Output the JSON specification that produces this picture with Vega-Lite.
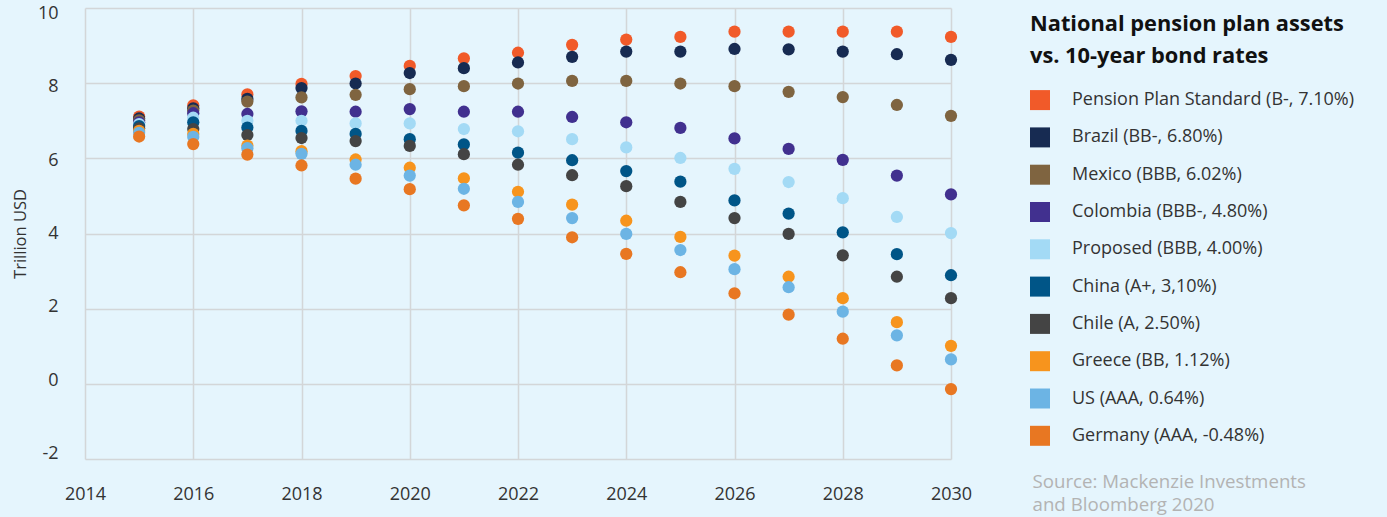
{
  "$schema": "https://vega.github.io/schema/vega-lite/v6.json",
  "width": 866,
  "height": 451,
  "autosize": {"type": "none"},
  "padding": {"left": 85, "top": 8, "right": 436, "bottom": 58},
  "background": "#e5f5fd",
  "config": {
    "font": "Open Sans",
    "view": {"stroke": null, "fill": "#e5f5fd"}
  },
  "data": {"values": [
    {"year":2015,"series":"Pension Plan Standard (B-, 7.10%)","value":7.11},
    {"year":2015,"series":"Brazil (BB-, 6.80%)","value":7.06},
    {"year":2015,"series":"Mexico (BBB, 6.02%)","value":7.01},
    {"year":2015,"series":"Colombia (BBB-, 4.80%)","value":6.96},
    {"year":2015,"series":"Proposed (BBB, 4.00%)","value":6.91},
    {"year":2015,"series":"China (A+, 3,10%)","value":6.86},
    {"year":2015,"series":"Chile (A, 2.50%)","value":6.80},
    {"year":2015,"series":"Greece (BB, 1.12%)","value":6.73},
    {"year":2015,"series":"US (AAA, 0.64%)","value":6.68},
    {"year":2015,"series":"Germany (AAA, -0.48%)","value":6.58},
    {"year":2016,"series":"Pension Plan Standard (B-, 7.10%)","value":7.41},
    {"year":2016,"series":"Brazil (BB-, 6.80%)","value":7.33},
    {"year":2016,"series":"Mexico (BBB, 6.02%)","value":7.27},
    {"year":2016,"series":"Colombia (BBB-, 4.80%)","value":7.20},
    {"year":2016,"series":"Proposed (BBB, 4.00%)","value":7.08},
    {"year":2016,"series":"China (A+, 3,10%)","value":6.96},
    {"year":2016,"series":"Chile (A, 2.50%)","value":6.78},
    {"year":2016,"series":"Greece (BB, 1.12%)","value":6.65},
    {"year":2016,"series":"US (AAA, 0.64%)","value":6.57},
    {"year":2016,"series":"Germany (AAA, -0.48%)","value":6.38},
    {"year":2017,"series":"Pension Plan Standard (B-, 7.10%)","value":7.70},
    {"year":2017,"series":"Brazil (BB-, 6.80%)","value":7.58},
    {"year":2017,"series":"Mexico (BBB, 6.02%)","value":7.51},
    {"year":2017,"series":"Colombia (BBB-, 4.80%)","value":7.18},
    {"year":2017,"series":"Proposed (BBB, 4.00%)","value":7.00},
    {"year":2017,"series":"China (A+, 3,10%)","value":6.82},
    {"year":2017,"series":"Chile (A, 2.50%)","value":6.62},
    {"year":2017,"series":"Greece (BB, 1.12%)","value":6.34},
    {"year":2017,"series":"US (AAA, 0.64%)","value":6.27},
    {"year":2017,"series":"Germany (AAA, -0.48%)","value":6.10},
    {"year":2018,"series":"Pension Plan Standard (B-, 7.10%)","value":7.98},
    {"year":2018,"series":"Brazil (BB-, 6.80%)","value":7.87},
    {"year":2018,"series":"Mexico (BBB, 6.02%)","value":7.62},
    {"year":2018,"series":"Colombia (BBB-, 4.80%)","value":7.25},
    {"year":2018,"series":"Proposed (BBB, 4.00%)","value":7.00},
    {"year":2018,"series":"China (A+, 3,10%)","value":6.73},
    {"year":2018,"series":"Chile (A, 2.50%)","value":6.54},
    {"year":2018,"series":"Greece (BB, 1.12%)","value":6.19},
    {"year":2018,"series":"US (AAA, 0.64%)","value":6.12},
    {"year":2018,"series":"Germany (AAA, -0.48%)","value":5.81},
    {"year":2019,"series":"Pension Plan Standard (B-, 7.10%)","value":8.19},
    {"year":2019,"series":"Brazil (BB-, 6.80%)","value":7.99},
    {"year":2019,"series":"Mexico (BBB, 6.02%)","value":7.69},
    {"year":2019,"series":"Colombia (BBB-, 4.80%)","value":7.24},
    {"year":2019,"series":"Proposed (BBB, 4.00%)","value":6.93},
    {"year":2019,"series":"China (A+, 3,10%)","value":6.65},
    {"year":2019,"series":"Chile (A, 2.50%)","value":6.46},
    {"year":2019,"series":"Greece (BB, 1.12%)","value":5.97},
    {"year":2019,"series":"US (AAA, 0.64%)","value":5.83},
    {"year":2019,"series":"Germany (AAA, -0.48%)","value":5.46},
    {"year":2020,"series":"Pension Plan Standard (B-, 7.10%)","value":8.46},
    {"year":2020,"series":"Brazil (BB-, 6.80%)","value":8.27},
    {"year":2020,"series":"Mexico (BBB, 6.02%)","value":7.84},
    {"year":2020,"series":"Colombia (BBB-, 4.80%)","value":7.31},
    {"year":2020,"series":"Proposed (BBB, 4.00%)","value":6.93},
    {"year":2020,"series":"China (A+, 3,10%)","value":6.51},
    {"year":2020,"series":"Chile (A, 2.50%)","value":6.33},
    {"year":2020,"series":"Greece (BB, 1.12%)","value":5.75},
    {"year":2020,"series":"US (AAA, 0.64%)","value":5.54},
    {"year":2020,"series":"Germany (AAA, -0.48%)","value":5.18},
    {"year":2021,"series":"Pension Plan Standard (B-, 7.10%)","value":8.66},
    {"year":2021,"series":"Brazil (BB-, 6.80%)","value":8.40},
    {"year":2021,"series":"Mexico (BBB, 6.02%)","value":7.92},
    {"year":2021,"series":"Colombia (BBB-, 4.80%)","value":7.24},
    {"year":2021,"series":"Proposed (BBB, 4.00%)","value":6.78},
    {"year":2021,"series":"China (A+, 3,10%)","value":6.37},
    {"year":2021,"series":"Chile (A, 2.50%)","value":6.11},
    {"year":2021,"series":"Greece (BB, 1.12%)","value":5.47},
    {"year":2021,"series":"US (AAA, 0.64%)","value":5.19},
    {"year":2021,"series":"Germany (AAA, -0.48%)","value":4.75},
    {"year":2022,"series":"Pension Plan Standard (B-, 7.10%)","value":8.81},
    {"year":2022,"series":"Brazil (BB-, 6.80%)","value":8.55},
    {"year":2022,"series":"Mexico (BBB, 6.02%)","value":7.99},
    {"year":2022,"series":"Colombia (BBB-, 4.80%)","value":7.24},
    {"year":2022,"series":"Proposed (BBB, 4.00%)","value":6.72},
    {"year":2022,"series":"China (A+, 3,10%)","value":6.15},
    {"year":2022,"series":"Chile (A, 2.50%)","value":5.83},
    {"year":2022,"series":"Greece (BB, 1.12%)","value":5.11},
    {"year":2022,"series":"US (AAA, 0.64%)","value":4.84},
    {"year":2022,"series":"Germany (AAA, -0.48%)","value":4.39},
    {"year":2023,"series":"Pension Plan Standard (B-, 7.10%)","value":9.02},
    {"year":2023,"series":"Brazil (BB-, 6.80%)","value":8.70},
    {"year":2023,"series":"Mexico (BBB, 6.02%)","value":8.06},
    {"year":2023,"series":"Colombia (BBB-, 4.80%)","value":7.10},
    {"year":2023,"series":"Proposed (BBB, 4.00%)","value":6.51},
    {"year":2023,"series":"China (A+, 3,10%)","value":5.95},
    {"year":2023,"series":"Chile (A, 2.50%)","value":5.55},
    {"year":2023,"series":"Greece (BB, 1.12%)","value":4.77},
    {"year":2023,"series":"US (AAA, 0.64%)","value":4.41},
    {"year":2023,"series":"Germany (AAA, -0.48%)","value":3.90},
    {"year":2024,"series":"Pension Plan Standard (B-, 7.10%)","value":9.16},
    {"year":2024,"series":"Brazil (BB-, 6.80%)","value":8.84},
    {"year":2024,"series":"Mexico (BBB, 6.02%)","value":8.06},
    {"year":2024,"series":"Colombia (BBB-, 4.80%)","value":6.96},
    {"year":2024,"series":"Proposed (BBB, 4.00%)","value":6.29},
    {"year":2024,"series":"China (A+, 3,10%)","value":5.66},
    {"year":2024,"series":"Chile (A, 2.50%)","value":5.26},
    {"year":2024,"series":"Greece (BB, 1.12%)","value":4.34},
    {"year":2024,"series":"US (AAA, 0.64%)","value":3.99},
    {"year":2024,"series":"Germany (AAA, -0.48%)","value":3.46},
    {"year":2025,"series":"Pension Plan Standard (B-, 7.10%)","value":9.23},
    {"year":2025,"series":"Brazil (BB-, 6.80%)","value":8.84},
    {"year":2025,"series":"Mexico (BBB, 6.02%)","value":7.99},
    {"year":2025,"series":"Colombia (BBB-, 4.80%)","value":6.81},
    {"year":2025,"series":"Proposed (BBB, 4.00%)","value":6.01},
    {"year":2025,"series":"China (A+, 3,10%)","value":5.38},
    {"year":2025,"series":"Chile (A, 2.50%)","value":4.84},
    {"year":2025,"series":"Greece (BB, 1.12%)","value":3.91},
    {"year":2025,"series":"US (AAA, 0.64%)","value":3.56},
    {"year":2025,"series":"Germany (AAA, -0.48%)","value":2.97},
    {"year":2026,"series":"Pension Plan Standard (B-, 7.10%)","value":9.37},
    {"year":2026,"series":"Brazil (BB-, 6.80%)","value":8.91},
    {"year":2026,"series":"Mexico (BBB, 6.02%)","value":7.92},
    {"year":2026,"series":"Colombia (BBB-, 4.80%)","value":6.53},
    {"year":2026,"series":"Proposed (BBB, 4.00%)","value":5.72},
    {"year":2026,"series":"China (A+, 3,10%)","value":4.88},
    {"year":2026,"series":"Chile (A, 2.50%)","value":4.41},
    {"year":2026,"series":"Greece (BB, 1.12%)","value":3.41},
    {"year":2026,"series":"US (AAA, 0.64%)","value":3.05},
    {"year":2026,"series":"Germany (AAA, -0.48%)","value":2.41},
    {"year":2027,"series":"Pension Plan Standard (B-, 7.10%)","value":9.37},
    {"year":2027,"series":"Brazil (BB-, 6.80%)","value":8.90},
    {"year":2027,"series":"Mexico (BBB, 6.02%)","value":7.77},
    {"year":2027,"series":"Colombia (BBB-, 4.80%)","value":6.25},
    {"year":2027,"series":"Proposed (BBB, 4.00%)","value":5.37},
    {"year":2027,"series":"China (A+, 3,10%)","value":4.53},
    {"year":2027,"series":"Chile (A, 2.50%)","value":3.99},
    {"year":2027,"series":"Greece (BB, 1.12%)","value":2.85},
    {"year":2027,"series":"US (AAA, 0.64%)","value":2.57},
    {"year":2027,"series":"Germany (AAA, -0.48%)","value":1.84},
    {"year":2028,"series":"Pension Plan Standard (B-, 7.10%)","value":9.37},
    {"year":2028,"series":"Brazil (BB-, 6.80%)","value":8.84},
    {"year":2028,"series":"Mexico (BBB, 6.02%)","value":7.63},
    {"year":2028,"series":"Colombia (BBB-, 4.80%)","value":5.96},
    {"year":2028,"series":"Proposed (BBB, 4.00%)","value":4.94},
    {"year":2028,"series":"China (A+, 3,10%)","value":4.03},
    {"year":2028,"series":"Chile (A, 2.50%)","value":3.42},
    {"year":2028,"series":"Greece (BB, 1.12%)","value":2.28},
    {"year":2028,"series":"US (AAA, 0.64%)","value":1.92},
    {"year":2028,"series":"Germany (AAA, -0.48%)","value":1.20},
    {"year":2029,"series":"Pension Plan Standard (B-, 7.10%)","value":9.37},
    {"year":2029,"series":"Brazil (BB-, 6.80%)","value":8.77},
    {"year":2029,"series":"Mexico (BBB, 6.02%)","value":7.42},
    {"year":2029,"series":"Colombia (BBB-, 4.80%)","value":5.54},
    {"year":2029,"series":"Proposed (BBB, 4.00%)","value":4.44},
    {"year":2029,"series":"China (A+, 3,10%)","value":3.45},
    {"year":2029,"series":"Chile (A, 2.50%)","value":2.85},
    {"year":2029,"series":"Greece (BB, 1.12%)","value":1.64},
    {"year":2029,"series":"US (AAA, 0.64%)","value":1.29},
    {"year":2029,"series":"Germany (AAA, -0.48%)","value":0.49},
    {"year":2030,"series":"Pension Plan Standard (B-, 7.10%)","value":9.23},
    {"year":2030,"series":"Brazil (BB-, 6.80%)","value":8.62},
    {"year":2030,"series":"Mexico (BBB, 6.02%)","value":7.13},
    {"year":2030,"series":"Colombia (BBB-, 4.80%)","value":5.04},
    {"year":2030,"series":"Proposed (BBB, 4.00%)","value":4.01},
    {"year":2030,"series":"China (A+, 3,10%)","value":2.89},
    {"year":2030,"series":"Chile (A, 2.50%)","value":2.28},
    {"year":2030,"series":"Greece (BB, 1.12%)","value":1.01},
    {"year":2030,"series":"US (AAA, 0.64%)","value":0.65},
    {"year":2030,"series":"Germany (AAA, -0.48%)","value":-0.14}
  ]},
  "mark": {"type": "point", "filled": true, "size": 150, "opacity": 1, "strokeWidth": 0},
  "encoding": {
    "x": {
      "field": "year", "type": "quantitative",
      "scale": {"domain": [2014, 2030], "nice": false, "zero": false},
      "axis": {
        "values": [2014, 2016, 2018, 2020, 2022, 2024, 2026, 2028, 2030],
        "labelExpr": "toString(datum.value)",
        "domain": false, "ticks": false,
        "grid": true, "gridColor": "#d3d6d8", "gridWidth": 1.5,
        "labelFontSize": 18, "labelColor": "#333333", "labelPadding": 26,
        "labelFlush": false,
        "title": ["Source: Mackenzie Investments", "and Bloomberg 2020"],
        "titleX": 947, "titleY": 28, "titleAlign": "left", "titleBaseline": "alphabetic",
        "titleAnchor": "start",
        "titleFontSize": 18.7, "titleFontWeight": "normal", "titleColor": "#b3b3b3",
        "titleLineHeight": 23.5
      }
    },
    "y": {
      "field": "value", "type": "quantitative",
      "scale": {"domain": [-2, 10], "nice": false, "zero": false},
      "axis": {
        "values": [-2, 0, 2, 4, 6, 8, 10],
        "labelExpr": "toString(datum.value)",
        "domain": false, "ticks": false,
        "grid": true, "gridColor": "#d3d6d8", "gridWidth": 1.5,
        "labelFontSize": 18, "labelColor": "#333333", "labelPadding": 27,
        "labelFlush": false,
        "labelOffset": {"expr": "(datum.value - 4) * 0.9"},
        "title": "Trillion USD", "titleFontSize": 16.5, "titleFontWeight": "normal",
        "titleColor": "#333333", "titleX": -60, "titleBaseline": "alphabetic"
      }
    },
    "color": {
      "field": "series", "type": "nominal",
      "scale": {
        "domain": ["Pension Plan Standard (B-, 7.10%)", "Brazil (BB-, 6.80%)", "Mexico (BBB, 6.02%)", "Colombia (BBB-, 4.80%)", "Proposed (BBB, 4.00%)", "China (A+, 3,10%)", "Chile (A, 2.50%)", "Greece (BB, 1.12%)", "US (AAA, 0.64%)", "Germany (AAA, -0.48%)"],
        "range": ["#f15a29", "#172b52", "#7f6440", "#41308f", "#a3daf5", "#005587", "#444444", "#f7941d", "#6cb4e4", "#e87722"]
      },
      "legend": {
        "title": ["National pension plan assets", "vs. 10-year bond rates"],
        "orient": "none", "legendX": 945, "legendY": 5.8,
        "padding": 0,
        "titleFontSize": 21.8, "titleFontWeight": "bold", "titleColor": "#111111",
        "titleLineHeight": 32, "titleBaseline": "top", "titlePadding": 22.5, "titleLimit": 500,
        "symbolType": "square", "symbolSize": 400, "symbolStrokeWidth": 0, "symbolOpacity": 1,
        "labelFontSize": 18, "labelColor": "#333333", "labelOffset": 22, "labelLimit": 400,
        "rowPadding": 17.3
      }
    },
    "order": {"value": 0}
  }
}
